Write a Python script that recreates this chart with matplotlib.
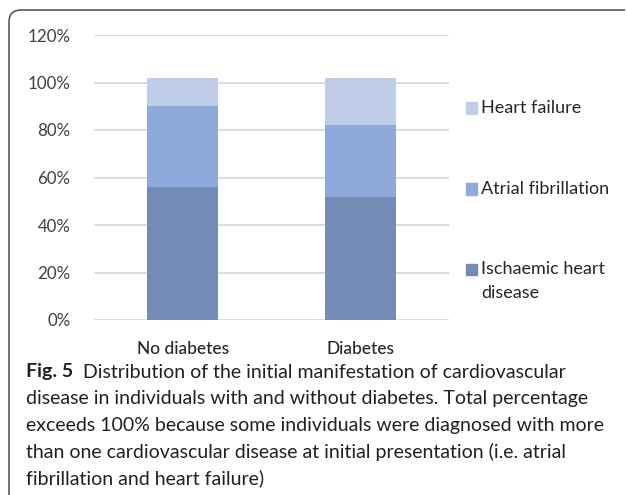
import numpy as np
import matplotlib.pyplot as plt
from matplotlib.path import Path
from matplotlib.patches import PathPatch, Rectangle


groups = ['No diabetes', 'Diabetes']
series = ['Ischaemic heart\ndisease', 'Atrial fibrillation', 'Heart failure']
ihd = [56, 52]
af = [34, 30]
hf = [12, 20]
colors = ['#748bb5', '#8eaadb', '#bfcde7']
yticks = [0, 20, 40, 60, 80, 100, 120]

caption_head = 'Fig. 5'
caption_lines = [
    'Distribution of the initial manifestation of cardiovascular',
    'disease in individuals with and without diabetes. Total percentage',
    'exceeds 100% because some individuals were diagnosed with more',
    'than one cardiovascular disease at initial presentation (i.e. atrial',
    'fibrillation and heart failure)',
]

W, H = 627, 495
fig = plt.figure(figsize=(W/100, H/100), dpi=100)
plt.rcParams['font.family'] = ['Lato', 'DejaVu Sans']

# axes box in pixels: x 94..449, y 35..320 (from top)
ax = fig.add_axes([94/W, (H-320)/H, (449-94)/W, (320-35)/H])

x = np.arange(len(groups))
vals = [ihd, af, hf]
bottom = np.zeros(len(groups))
for v, c, lab in zip(vals, colors, series):
    ax.bar(x, v, 0.4, bottom=bottom, color=c, label=lab, zorder=3)
    bottom += np.array(v)

ax.set_xlim(-0.5, 1.5)
ax.set_ylim(0, 120)
ax.set_yticks(yticks)
ax.set_yticklabels([f'{t}%' for t in yticks], fontsize=12.2, color='#404040')
ax.set_xticks(x)
ax.set_xticklabels(groups, fontsize=12.5, color='#262626', fontweight='medium')
ax.tick_params(axis='y', length=0, pad=17)
ax.tick_params(axis='x', length=0, pad=15)
ax.grid(axis='y', color='#d9d9d9', lw=1.3, zorder=0)
for s in ax.spines.values():
    s.set_visible(False)

# legend, top entry first; square sits on the first text line
leg_y = [269, 189, 108]
for lab, c, ly in zip(series, colors, leg_y):
    fig.patches.append(Rectangle((466/W, (H-ly-5.5)/H), 11/W, 11/H,
                                 transform=fig.transFigure, color=c))
    for k, part in enumerate(lab.split('\n')):
        fig.text(481/W, (H-ly-24*k)/H, part, fontsize=13,
                 color='#262626', va='center')

# caption
tx = 26/W
fs = 14.0
head = fig.text(tx, (H-372)/H, caption_head, fontsize=fs, fontweight='bold',
                color='#231f20', va='center')
bb = head.get_window_extent(renderer=fig.canvas.get_renderer())
fig.text((bb.x1 + 10)/W, (H-372)/H, caption_lines[0], fontsize=fs,
         color='#231f20', va='center')
for i, line in enumerate(caption_lines[1:]):
    fig.text(tx, (H-372-26.5*(i+1))/H, line, fontsize=fs,
             color='#231f20', va='center')

# rounded border (top and left only)
r = 12
verts = [(625, H-10), (9+r, H-10), (9, H-10), (9, H-10-r), (9, 0)]
codes = [Path.MOVETO, Path.LINETO, Path.CURVE3, Path.CURVE3, Path.LINETO]
verts = [(vx/W, vy/H) for vx, vy in verts]
fig.patches.append(PathPatch(Path(verts, codes), transform=fig.transFigure,
                             fill=False, edgecolor='#5a5a5a', lw=1.2))

fig.savefig('out.png', dpi=100)
